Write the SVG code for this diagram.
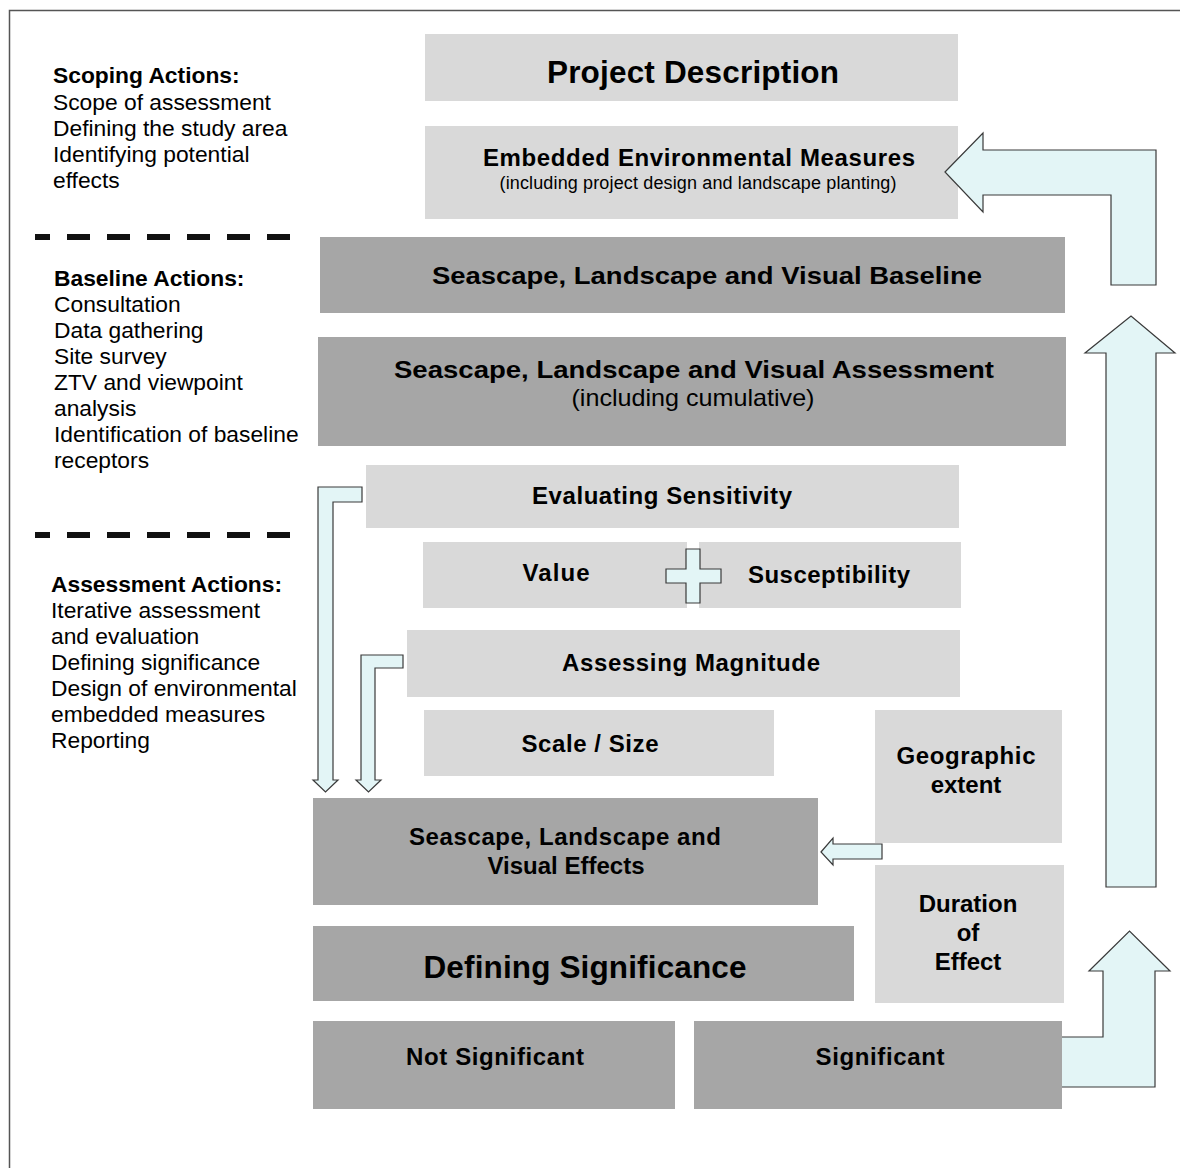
<svg xmlns="http://www.w3.org/2000/svg" width="1180" height="1168" viewBox="0 0 1180 1168">
<style>
.lt{fill:#d9d9d9}
.dk{fill:#a6a6a6}
.arr{fill:#e3f5f6;stroke:#3a3a3a;stroke-width:1.2;stroke-linejoin:miter}
.dash{stroke:#111;stroke-width:6;stroke-dasharray:23 17;stroke-dashoffset:8}
text{font-family:"Liberation Sans",Arial,sans-serif;fill:#000}
.side{font-size:22.8px}
.sideb{font-size:22.8px;font-weight:bold}
.lbl{font-size:24px;font-weight:bold;text-anchor:middle}
.big{font-size:31.5px;font-weight:bold;text-anchor:middle}
.sub{font-size:18px;text-anchor:middle}
</style>
<rect x="0" y="0" width="1180" height="1168" fill="#fff"/>
<rect x="9.5" y="10.5" width="1200" height="1200" fill="none" stroke="#555" stroke-width="1.5"/>

<g id="scoping">
<text class="sideb" x="53" y="83">Scoping Actions:</text>
<text class="side" x="53" y="110">Scope of assessment</text>
<text class="side" x="53" y="136">Defining the study area</text>
<text class="side" x="53" y="162">Identifying potential</text>
<text class="side" x="53" y="188">effects</text>
</g>
<g id="baseline-actions">
<text class="sideb" x="54" y="286">Baseline Actions:</text>
<text class="side" x="54" y="312">Consultation</text>
<text class="side" x="54" y="338">Data gathering</text>
<text class="side" x="54" y="364">Site survey</text>
<text class="side" x="54" y="390">ZTV and viewpoint</text>
<text class="side" x="54" y="416">analysis</text>
<text class="side" x="54" y="442">Identification of baseline</text>
<text class="side" x="54" y="468">receptors</text>
</g>
<g id="assessment-actions">
<text class="sideb" x="51" y="592">Assessment Actions:</text>
<text class="side" x="51" y="618">Iterative assessment</text>
<text class="side" x="51" y="644">and evaluation</text>
<text class="side" x="51" y="670">Defining significance</text>
<text class="side" x="51" y="696">Design of environmental</text>
<text class="side" x="51" y="722">embedded measures</text>
<text class="side" x="51" y="748">Reporting</text>
</g>
<g id="dividers">
<line class="dash" x1="35" y1="237" x2="290" y2="237"/>
<line class="dash" x1="35" y1="535" x2="290" y2="535"/>
</g>

<g id="project-description">
<rect class="lt" x="425" y="34" width="533" height="67"/>
<text class="big" x="693" y="83" textLength="292">Project Description</text>
</g>
<g id="embedded-measures">
<rect class="lt" x="425" y="126" width="533" height="93"/>
<text class="lbl" x="699" y="166" textLength="432">Embedded Environmental Measures</text>
<text class="sub" x="698" y="189" textLength="397">(including project design and landscape planting)</text>
</g>
<g id="slv-baseline">
<rect class="dk" x="320" y="237" width="745" height="76"/>
<text class="lbl" x="707" y="284" font-size="28" textLength="550" lengthAdjust="spacingAndGlyphs">Seascape, Landscape and Visual Baseline</text>
</g>
<g id="slv-assessment">
<rect class="dk" x="318" y="337" width="748" height="109"/>
<text class="lbl" x="694" y="378" font-size="28" textLength="600" lengthAdjust="spacingAndGlyphs">Seascape, Landscape and Visual Assessment</text>
<text x="693" y="406" font-size="24" text-anchor="middle" textLength="243" lengthAdjust="spacingAndGlyphs">(including cumulative)</text>
</g>
<g id="evaluating-sensitivity">
<rect class="lt" x="366" y="465" width="593" height="63"/>
<text class="lbl" x="662" y="504" textLength="260">Evaluating Sensitivity</text>
</g>
<g id="value">
<rect class="lt" x="423" y="542" width="264" height="66"/>
<text class="lbl" x="556" y="581" textLength="67">Value</text>
</g>
<g id="susceptibility">
<rect class="lt" x="699" y="542" width="262" height="66"/>
<text class="lbl" x="829" y="583" textLength="162">Susceptibility</text>
</g>
<g id="assessing-magnitude">
<rect class="lt" x="407" y="630" width="553" height="67"/>
<text class="lbl" x="691" y="671" textLength="258">Assessing Magnitude</text>
</g>
<g id="scale-size">
<rect class="lt" x="424" y="710" width="350" height="66"/>
<text class="lbl" x="590" y="752" textLength="137">Scale / Size</text>
</g>
<g id="geographic-extent">
<rect class="lt" x="875" y="710" width="187" height="133"/>
<text class="lbl" x="966" y="764" textLength="139">Geographic</text>
<text class="lbl" x="966" y="793">extent</text>
</g>
<g id="duration">
<rect class="lt" x="875" y="865" width="189" height="138"/>
<text class="lbl" x="968" y="912">Duration</text>
<text class="lbl" x="968" y="941">of</text>
<text class="lbl" x="968" y="970">Effect</text>
</g>
<g id="slv-effects">
<rect class="dk" x="313" y="798" width="505" height="107"/>
<text class="lbl" x="565" y="845" textLength="312">Seascape, Landscape and</text>
<text class="lbl" x="566" y="874">Visual Effects</text>
</g>
<g id="defining-significance">
<rect class="dk" x="313" y="926" width="541" height="75"/>
<text class="big" x="585" y="978" textLength="323">Defining Significance</text>
</g>
<g id="not-significant">
<rect class="dk" x="313" y="1021" width="362" height="88"/>
<text class="lbl" x="495" y="1065" textLength="178">Not Significant</text>
</g>

<g id="connectors">
<polygon class="arr" points="1050,1037 1103,1037 1103,971 1089,971 1129.5,931 1170,971 1155,971 1155,1087 1050,1087"/>
<polygon class="arr" points="945,172 983,133 983,150 1156,150 1156,285 1111,285 1111,195 983,195 983,212"/>
<polygon class="arr" points="1106,887 1106,353 1085,353 1131,316 1175,353 1156,353 1156,887"/>
<polygon class="arr" points="821,852 833,838 833,844 882,844 882,859 833,859 833,865"/>
<polygon class="arr" points="318,487 362,487 362,502 333,502 333,780 338,780 325.5,792 313,780 318,780"/>
<polygon class="arr" points="361,655 403,655 403,668 375,668 375,780 381,780 368.5,792 356,780 361,780"/>
<polygon class="arr" points="686,549 700,549 700,569 721,569 721,583 700,583 700,603 686,603 686,583 666,583 666,569 686,569"/>
</g>

<g id="significant">
<rect class="dk" x="694" y="1021" width="368" height="88"/>
<text class="lbl" x="880" y="1065" textLength="129">Significant</text>
</g>
</svg>
